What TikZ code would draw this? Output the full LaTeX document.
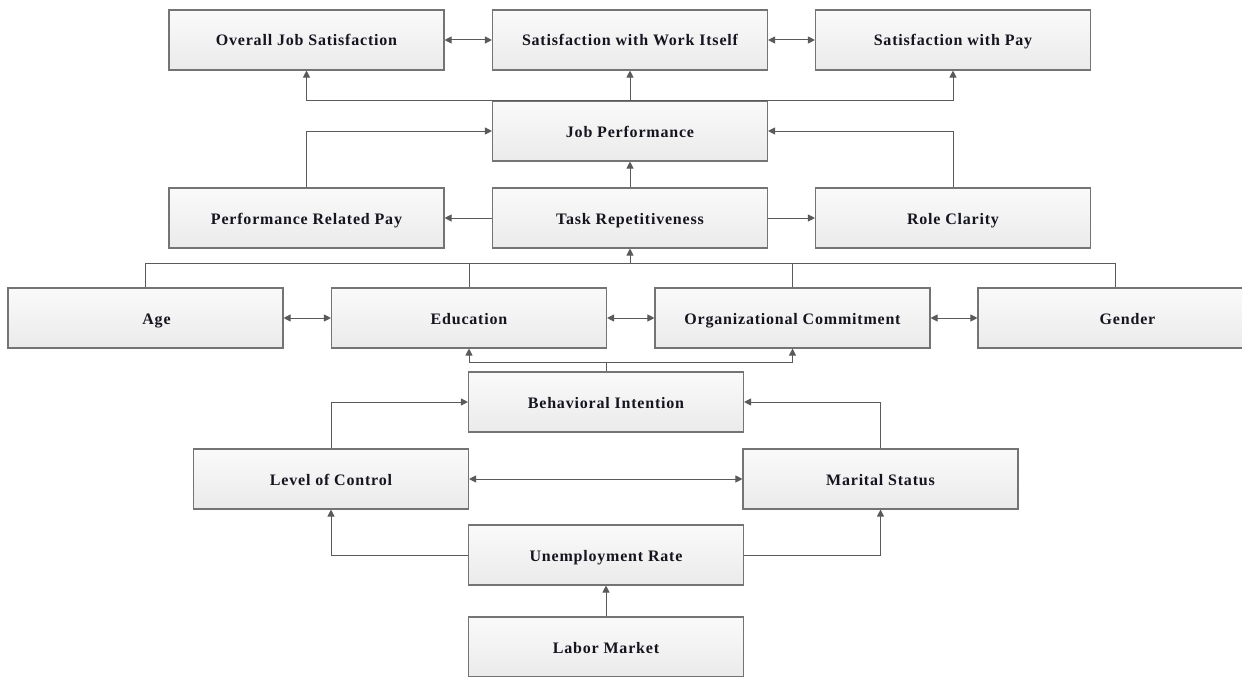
\documentclass[tikz,border=0pt]{standalone}
\usepackage{fontspec}
\setmainfont[LetterSpace=5]{Liberation Serif}
\usetikzlibrary{arrows.meta,backgrounds}
\definecolor{boxline}{HTML}{747474}
\definecolor{conn}{HTML}{5A5A5A}
\definecolor{txt}{HTML}{15151F}
\tikzset{
  box/.style={draw=boxline, line width=1.1pt, top color=white!98!black, bottom color=black!8,
    minimum width=275pt, minimum height=60pt, inner sep=0pt, text=txt,
    text height=15pt, text depth=3pt,
    font=\fontsize{16}{18}\selectfont\bfseries},
  conn/.style={draw=conn, line width=1pt},
  arr/.style={conn, -{Triangle[length=7pt,width=7pt]}},
  darr/.style={conn, {Triangle[length=7pt,width=7pt]}-{Triangle[length=7pt,width=7pt]}}
}
\begin{document}
\begin{tikzpicture}[x=1pt,y=-1pt]
\useasboundingbox[fill=white] (0,0) rectangle (1242,677);
\clip (0,0) rectangle (1242,677);
% row 1
\node[box] (ojs) at (306.5,40) {Overall Job Satisfaction};
\node[box] (swi) at (630,40) {Satisfaction with Work Itself};
\node[box] (sp)  at (953,40)   {Satisfaction with Pay};
% row 2
\node[box] (jp) at (630,131) {Job Performance};
% row 3
\node[box] (prp) at (306.5,218) {Performance Related Pay};
\node[box] (tr)  at (630,218)   {Task Repetitiveness};
\node[box] (rc)  at (953,218)   {Role Clarity};
% row 4
\node[box] (age) at (145.5,318) {\hspace*{22pt}Age};
\node[box] (edu) at (469,318)   {Education};
\node[box] (oc)  at (792.5,318) {Organizational Commitment};
\node[box] (gen) at (1115.5,318) {\hspace*{24pt}Gender};
% row 5
\node[box] (bi) at (606,402) {Behavioral Intention};
% row 6
\node[box] (loc) at (331,479)   {Level of Control};
\node[box] (ms)  at (880.5,479) {Marital Status};
% row 7
\node[box] (ur) at (606,555) {Unemployment Rate};
\node[box] (lm) at (606,647) {Labor Market};
% bus coordinates
\coordinate (busA) at (0,263);
\coordinate (busB) at (0,362);
\coordinate (busC) at (0,375);
% top row links
\draw[darr] (ojs.east) -- (swi.west);
\draw[darr] (swi.east) -- (sp.west);
\draw[arr] (jp.north) -- (swi.south);
\draw[arr] (jp.north) -| (ojs.south);
\draw[arr] (jp.north) -| (sp.south);
% row 3 to job performance
\draw[arr] (prp.north) |- (jp.west);
\draw[arr] (rc.north) |- (jp.east);
\draw[arr] (tr.north) -- (jp.south);
\draw[arr] (tr.west) -- (prp.east);
\draw[arr] (tr.east) -- (rc.west);
% row 4 to task repetitiveness
\draw[conn] (age.north) -- (age.north |- busA) -- (gen.north |- busA) -- (gen.north);
\draw[conn] (edu.north) -- (edu.north |- busA);
\draw[conn] (oc.north) -- (oc.north |- busA);
\draw[arr] (tr.south |- busA) -- (tr.south);
% row 4 links
\draw[darr] (age.east) -- (edu.west);
\draw[darr] (edu.east) -- (oc.west);
\draw[darr] (oc.east) -- (gen.west);
% behavioral intention to row 4
\draw[conn] (bi.north) -- (bi.north |- busB);
\draw[arr] (bi.north |- busB) -| (edu.south);
\draw[arr] (bi.north |- busB) -| (oc.south);
\begin{pgfonlayer}{background}
\draw[arr] (bi.north |- busC) -| (age.south);
\draw[arr] (bi.north |- busC) -| (gen.south);
\end{pgfonlayer}
% lower part
\draw[arr] (loc.north) |- (bi.west);
\draw[arr] (ms.north) |- (bi.east);
\draw[darr] (loc.east) -- (ms.west);
\draw[arr] (ur.west) -| (loc.south);
\draw[arr] (ur.east) -| (ms.south);
\draw[arr] (lm.north) -- (ur.south);
\end{tikzpicture}
\end{document}
